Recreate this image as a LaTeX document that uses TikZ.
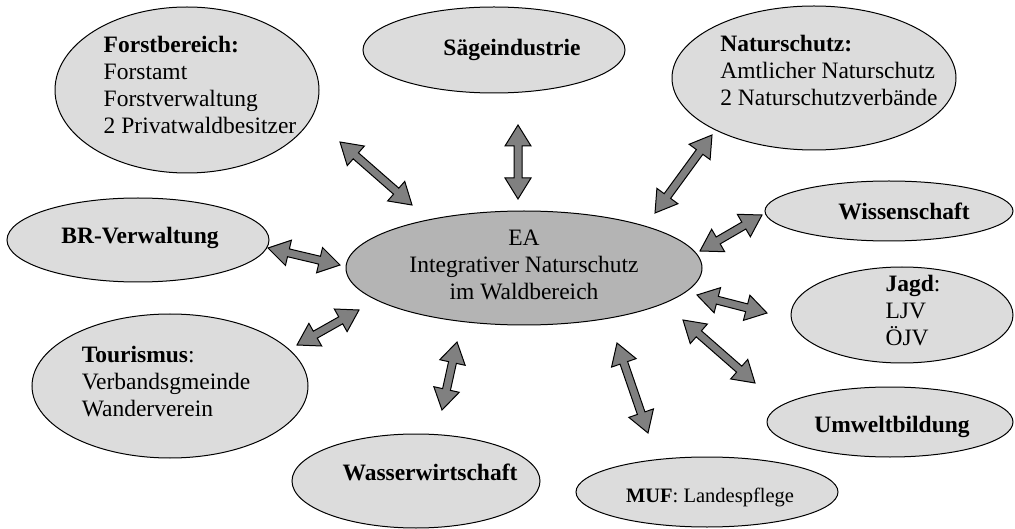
\documentclass[tikz,border=0pt]{standalone}
\usepackage{fontspec}
\setmainfont{Liberation Serif}
\usetikzlibrary{shapes.geometric,calc}
\definecolor{BubbleGray}{HTML}{DCDCDC}
\definecolor{HubGray}{HTML}{B4B4B4}
\definecolor{ArrowGray}{HTML}{808080}
\tikzset{
every node/.style={font=\fontsize{23.5}{27}\selectfont},
bubble/.style= {ellipse, draw=black, line width=1pt, fill=BubbleGray, inner sep=0pt},
hub/.style= {bubble, fill=HubGray},
arrowbody/.style= {draw=black, line width=1pt, fill=ArrowGray, line join=miter}
}
% block arrow with a head at both ends
\newcommand{\dblarrow}[2]{%
  \coordinate (h1) at ($(#1)!21pt!(#2)$);
  \coordinate (h2) at ($(#2)!21pt!(#1)$);
  \draw[arrowbody] (#1) -- ($(h1)!13pt!90:(#2)$) -- ($(h1)!4pt!90:(#2)$)
    -- ($(h2)!4pt!-90:(#1)$) -- ($(h2)!13pt!-90:(#1)$) -- (#2)
    -- ($(h2)!13pt!90:(#1)$) -- ($(h2)!4pt!90:(#1)$)
    -- ($(h1)!4pt!-90:(#2)$) -- ($(h1)!13pt!-90:(#2)$) -- cycle;
}

\begin{document}
\begin{tikzpicture}[x=1pt, y=-1pt]
    \useasboundingbox (0,0) rectangle (1015,529);

    \node[hub, minimum width=356pt, minimum height=114pt,
      label={[align=center, yshift=3pt]center:{EA\\Integrativer Naturschutz\\im Waldbereich}}] (ea) at (524,268) {};

    \node[bubble, minimum width=264pt, minimum height=166pt,
      label={[align=left, xshift=13pt, yshift=5pt]center:{\textbf{Forstbereich:}\\Forstamt\\Forstverwaltung\\2 Privatwaldbesitzer}}] (forst) at (187,90) {};
    \node[bubble, minimum width=262pt, minimum height=86pt,
      label={[xshift=18pt]center:\textbf{Sägeindustrie}}] (saege) at (494,50) {};
    \node[bubble, minimum width=284pt, minimum height=144pt,
      label={[align=left, xshift=15pt, yshift=8pt]center:{\textbf{Naturschutz:}\\Amtlicher Naturschutz\\2 Naturschutzverbände}}] (natur) at (814,78) {};
    \node[bubble, minimum width=248pt, minimum height=60pt,
      label={[xshift=15pt]center:\textbf{Wissenschaft}}] (wiss) at (889,211) {};
    \node[bubble, minimum width=222pt, minimum height=96pt,
      label={[align=left, xshift=11pt, yshift=4pt]center:{\textbf{Jagd}:\\LJV\\ÖJV}}] (jagd) at (902,315) {};
    \node[bubble, minimum width=246pt, minimum height=70pt,
      label={[xshift=2pt, yshift=-5pt]center:\textbf{Umweltbildung}}] (umwelt) at (890,422) {};
    \node[bubble, minimum width=262pt, minimum height=70pt,
      label={[xshift=3pt, yshift=-5pt, font=\fontsize{20.5}{24}\selectfont]center:{\textbf{MUF}: Landespflege}}] (muf) at (707,492) {};
    \node[bubble, minimum width=248pt, minimum height=94pt,
      label={[xshift=14pt, yshift=9pt]center:\textbf{Wasserwirtschaft}}] (wasser) at (416,481) {};
    \node[bubble, minimum width=276pt, minimum height=144pt,
      label={[align=left, xshift=-4pt, yshift=4pt]center:{\textbf{Tourismus}:\\Verbandsgmeinde\\Wanderverein}}] (tour) at (170,386) {};
    \node[bubble, minimum width=262pt, minimum height=84pt,
      label={[xshift=2pt, yshift=2pt]center:\textbf{BR-Verwaltung}}] (br) at (138,240) {};

    % arrow ends
    \coordinate (forst-a) at (340,142);  \coordinate (forst-b) at (412,205);
    \coordinate (saege-a) at (518,125);  \coordinate (saege-b) at (518,199);
    \coordinate (natur-a) at (712,135);  \coordinate (natur-b) at (655,213);
    \coordinate (wiss-a) at (762,215);   \coordinate (wiss-b) at (700,251);
    \coordinate (jagd-a) at (767,313);   \coordinate (jagd-b) at (697,295);
    \coordinate (umwelt-a) at (755,383); \coordinate (umwelt-b) at (683,320);
    \coordinate (muf-a) at (648,433);    \coordinate (muf-b) at (617,343);
    \coordinate (wasser-a) at (442,410); \coordinate (wasser-b) at (457,342);
    \coordinate (tour-a) at (297,345);   \coordinate (tour-b) at (359,310);
    \coordinate (br-a) at (268,248);     \coordinate (br-b) at (340,265);

    \foreach \n in {forst,saege,natur,wiss,jagd,umwelt,muf,wasser,tour,br}
      \dblarrow{\n-a}{\n-b};
\end{tikzpicture}
\end{document}
